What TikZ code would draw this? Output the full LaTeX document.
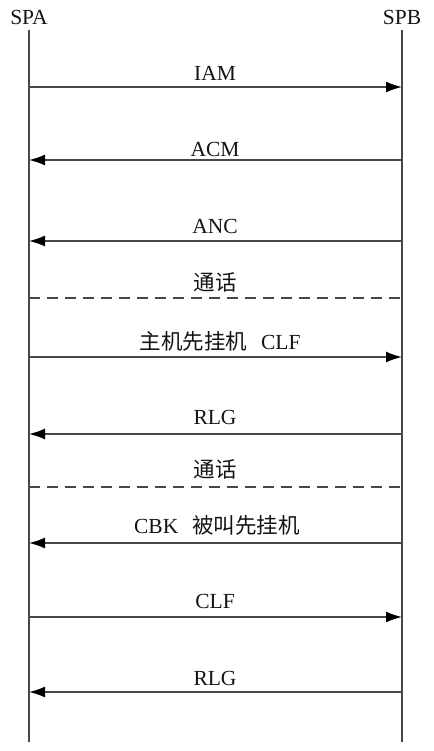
\documentclass[tikz,border=0pt]{standalone}
\usepackage{fontspec}
\setmainfont{Liberation Serif}
\newfontfamily\cjk{Noto Sans CJK SC}
\usetikzlibrary{arrows.meta}
\definecolor{linec}{gray}{0.28}
\definecolor{textc}{gray}{0.08}
\tikzset{
  lifeline/.style={draw=linec, line width=1.6pt},
  msg/.style={draw=linec, line width=1.6pt, -{Latex[length=16pt,width=11pt,color=black]}},
  sep/.style={draw=linec, line width=1.6pt, dash pattern=on 11pt off 7pt},
  lbl/.style={text=textc, font=\fontsize{21.5}{24}\selectfont, inner sep=0pt},
  head/.style={text=textc, font=\fontsize{21.5}{24}\selectfont, inner sep=0pt},
}
\begin{document}
\begin{tikzpicture}[x=1pt,y=-1pt]
\useasboundingbox (0,0) rectangle (433,751);
\node[head] (spa) at (29,17) {SPA};
\node[head] (spb) at (402,17) {SPB};
\coordinate (a0) at (29,30); \coordinate (a1) at (29,742);
\coordinate (b0) at (402,30); \coordinate (b1) at (402,742);
\draw[lifeline] (a0) -- (a1);
\draw[lifeline] (b0) -- (b1);
% messages
\foreach \n/\y in {iam/87, acm/160, anc/241, d1/298, clf1/357, rlg1/434, d2/487, cbk/543, clf2/617, rlg2/692}{
  \coordinate (\n A) at (29,\y);
  \coordinate (\n B) at (402,\y);
}
\draw[msg] (iamA) -- (iamB);
\draw[msg] (acmB) -- (acmA);
\draw[msg] (ancB) -- (ancA);
\draw[sep] (d1A) -- (d1B);
\draw[msg] (clf1A) -- (clf1B);
\draw[msg] (rlg1B) -- (rlg1A);
\draw[sep] (d2A) -- (d2B);
\draw[msg] (cbkB) -- (cbkA);
\draw[msg] (clf2A) -- (clf2B);
\draw[msg] (rlg2B) -- (rlg2A);
% labels
\node[lbl] (l1) at (215,73) {IAM};
\node[lbl] (l2) at (215,149) {ACM};
\node[lbl] (l3) at (215,226) {ANC};
\node[lbl] (l4) at (215,282) {{\cjk 通话}};
\node[lbl] (l5) at (220,341) {{\cjk 主机先挂机}\hspace{14pt}CLF};
\node[lbl] (l6) at (215,417) {RLG};
\node[lbl] (l7) at (215,469) {{\cjk 通话}};
\node[lbl] (l8) at (217,525) {CBK\hspace{14pt}{\cjk 被叫先挂机}};
\node[lbl] (l9) at (215,601) {CLF};
\node[lbl] (l10) at (215,678) {RLG};
\end{tikzpicture}
\end{document}
